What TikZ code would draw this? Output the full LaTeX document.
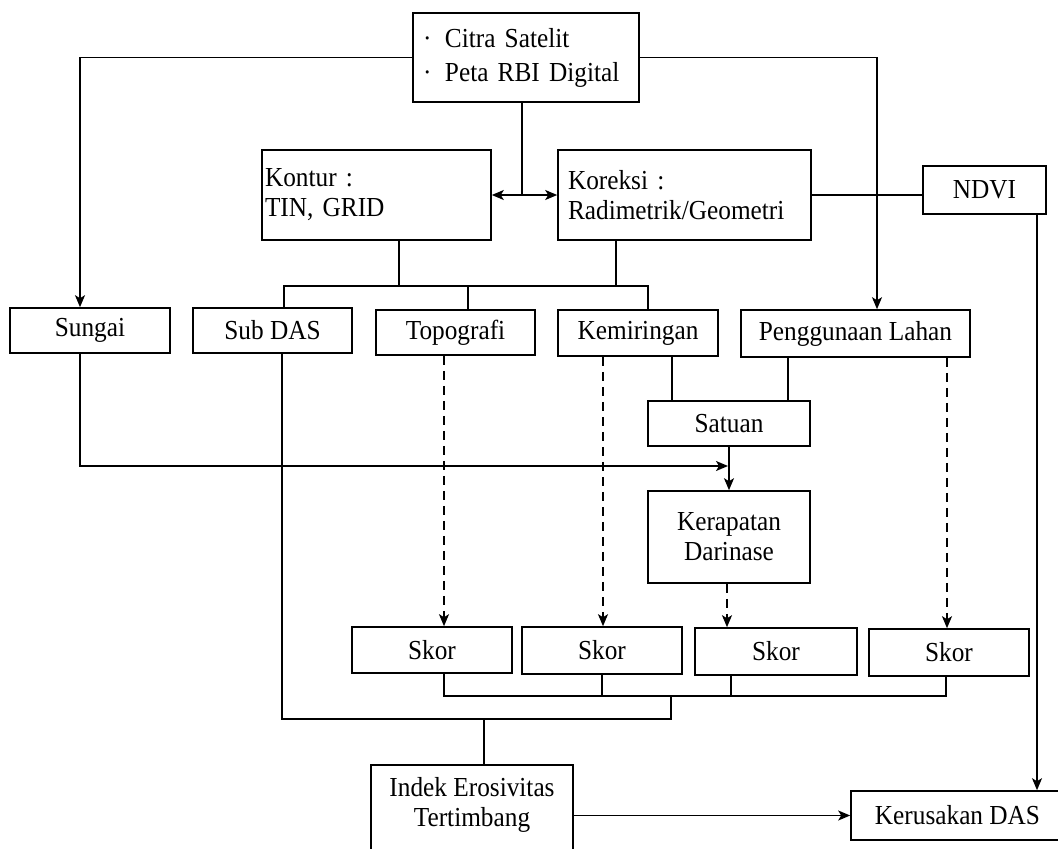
\documentclass[tikz,border=0pt]{standalone}
\usepackage{fontspec}
\setmainfont{Liberation Serif}[FakeStretch=0.92]
\usetikzlibrary{arrows.meta}
\newcommand{\fs}{\fontsize{27.5}{30}\selectfont}
\begin{document}
\begin{tikzpicture}[x=1pt,y=-1pt,
  bx/.style={draw, line width=1.6pt, inner sep=0pt, font=\fs},
  ln/.style={line width=1.6pt},
  ar/.style={line width=1.6pt, -{Stealth[length=12pt,width=10pt,inset=3pt]}},
  dar/.style={ar, dash pattern=on 9pt off 6pt},
  dbl/.style={line width=1.6pt, {Stealth[length=12pt,width=10pt,inset=3pt]}-{Stealth[length=12pt,width=10pt,inset=3pt]}}]
\useasboundingbox (0,0) rectangle (1058,849);
\clip (0,0) rectangle (1058,849);
% nodes
\node[bx, minimum width=226pt, minimum height=89pt, text width=206pt, align=left] (top) at (526,57.5)
  {\makebox[22pt][l]{·}Citra Satelit\\[4pt]\makebox[22pt][l]{·}Peta RBI Digital};
\node[bx, minimum width=229pt, minimum height=90pt, text width=223pt, align=left] (kontur) at (376.5,195) {Kontur :\\TIN, GRID};
\node[bx, minimum width=253pt, minimum height=90pt, text width=233pt, align=left] (koreksi) at (684.5,195) {Koreksi :\\Radimetrik/Geometri};
\node[bx, minimum width=123pt, minimum height=48pt] (ndvi) at (984.5,190) {NDVI};
\node[bx, minimum width=160pt, minimum height=45pt] (sungai) at (90,330.5) {Sungai};
\node[bx, minimum width=159pt, minimum height=45pt] (subdas) at (272.5,330.5) {Sub DAS};
\node[bx, minimum width=159pt, minimum height=45pt] (topo) at (455.5,332.5) {Topografi};
\node[bx, minimum width=160pt, minimum height=46pt] (kem) at (638,333) {Kemiringan};
\node[bx, minimum width=229pt, minimum height=47pt] (peng) at (855.5,333.5) {Penggunaan Lahan};
\node[bx, minimum width=162pt, minimum height=45pt] (satuan) at (729,423.5) {Satuan};
\node[bx, minimum width=162pt, minimum height=92pt, align=center] (kerapatan) at (729,537) {Kerapatan\\Darinase};
\node[bx, minimum width=160pt, minimum height=46pt] (skor1) at (432,650) {Skor};
\node[bx, minimum width=160pt, minimum height=47pt] (skor2) at (602,650.5) {Skor};
\node[bx, minimum width=162pt, minimum height=47pt] (skor3) at (776,651.5) {Skor};
\node[bx, minimum width=160pt, minimum height=47pt] (skor4) at (949,652.5) {Skor};
\node[bx, minimum width=202pt, minimum height=90pt, align=center, anchor=north] (indek) at (472,764)
  {Indek Erosivitas\\Tertimbang\\[-14pt]\mbox{}};
\node[bx, minimum width=213pt, minimum height=49pt] (kerusakan) at (957.5,815.5) {Kerusakan DAS};
% helper coordinates
\coordinate (busy1) at (0,286);
\coordinate (sj) at (0,466);
\coordinate (sb) at (0,696);
\coordinate (b2) at (0,719);
\coordinate (jb) at (671,696);
% top connectors
\draw[ln] ([xshift=-4pt]top.south) -- ([xshift=-4pt]top.south |- kontur.east);
\draw[dbl] (kontur.east) -- (koreksi.west);
\draw[ln] (koreksi.east) -- (koreksi.east -| ndvi.west);
\draw[ar] (top.west) -| ([xshift=-10pt]sungai.north);
\draw[ar] (top.east) -| ([xshift=21.5pt]peng.north);
\draw[ar] ([xshift=52.5pt]ndvi.south) -- ([xshift=52.5pt]ndvi.south |- kerusakan.north);
% bus 1
\draw[ln] ([xshift=22.5pt]kontur.south) -- ([xshift=22.5pt]kontur.south |- busy1);
\draw[ln] ([xshift=-68.5pt]koreksi.south) -- ([xshift=-68.5pt]koreksi.south |- busy1);
\draw[ln] ([xshift=11.5pt]subdas.north) |- ([xshift=10pt]kem.north |- busy1) -- ([xshift=10pt]kem.north);
\draw[ln] ([xshift=12.5pt]topo.north) -- ([xshift=12.5pt]topo.north |- busy1);
% satuan
\draw[ln] ([xshift=34pt]kem.south) -- ([xshift=34pt]kem.south |- satuan.north);
\draw[ln] ([xshift=-67.5pt]peng.south) -- ([xshift=-67.5pt]peng.south |- satuan.north);
\draw[ar] ([xshift=-10pt]sungai.south) |- ([xshift=-1pt]satuan.south |- sj);
\draw[ar] (satuan.south) -- (kerapatan.north);
% dashed
\draw[dar] ([xshift=-11.5pt]topo.south) -- ([xshift=-11.5pt]topo.south |- skor1.north);
\draw[dar] ([xshift=-35pt]kem.south) -- ([xshift=-35pt]kem.south |- skor2.north);
\draw[dar] ([xshift=-2pt]kerapatan.south) -- ([xshift=-2pt]kerapatan.south |- skor3.north);
\draw[dar] ([xshift=91.5pt]peng.south) -- ([xshift=91.5pt]peng.south |- skor4.north);
% skor bus
\draw[ln] ([xshift=12pt]skor1.south) |- ([xshift=-3pt]skor4.south |- sb) -- ([xshift=-3pt]skor4.south);
\draw[ln] (skor2.south) -- (skor2.south |- sb);
\draw[ln] ([xshift=-45pt]skor3.south) -- ([xshift=-45pt]skor3.south |- sb);
\draw[ln] ([xshift=9.5pt]subdas.south) |- (jb |- b2) -- (jb);
\draw[ln] ([xshift=12pt]indek.north) -- ([xshift=12pt]indek.north |- b2);
\draw[ar] (kerusakan.west -| indek.east) -- (kerusakan.west);
\end{tikzpicture}
\end{document}
